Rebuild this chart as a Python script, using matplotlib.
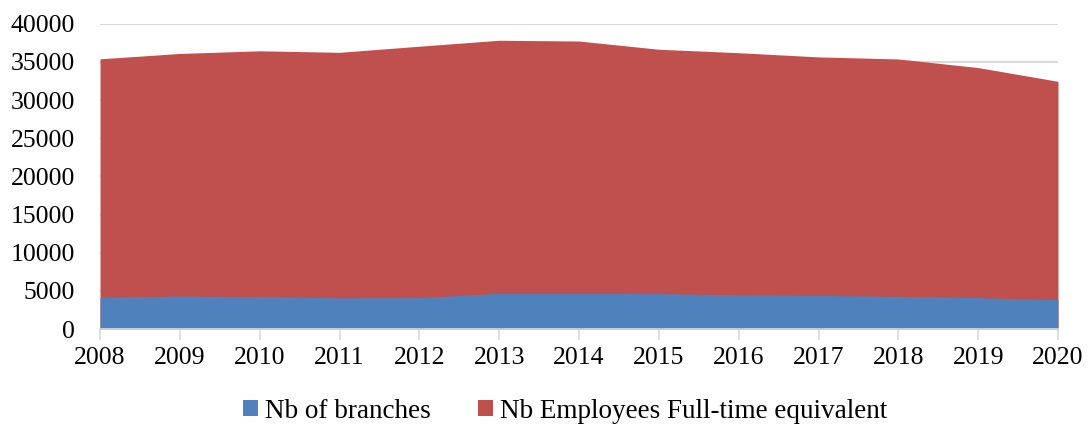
import matplotlib
matplotlib.use("Agg")
import matplotlib.pyplot as plt
from matplotlib.patches import Patch

years = [2008, 2009, 2010, 2011, 2012, 2013, 2014, 2015, 2016, 2017, 2018, 2019, 2020]
employees_fte = [35400, 36100, 36450, 36250, 37050, 37830, 37730, 36650, 36200, 35650, 35380, 34250, 32450]
branches = [4150, 4320, 4240, 4080, 4110, 4680, 4680, 4630, 4480, 4400, 4280, 4100, 3850]
yticks = [0, 5000, 10000, 15000, 20000, 25000, 30000, 35000, 40000]

blue = "#4F81BD"
red = "#C0504D"
grid = "#D9D9D9"

plt.rcParams['font.family'] = ['Liberation Serif', 'DejaVu Serif']

fig = plt.figure(figsize=(10.91, 4.28), dpi=100)
ax = fig.add_axes([100/1091, 1-329/428, (1058-100)/1091, (329-23.7)/428])

ax.fill_between(years, 0, employees_fte, color=red, linewidth=0, zorder=2)
ax.fill_between(years, 0, branches, color=blue, linewidth=0, zorder=3)

ax.set_xlim(years[0], years[-1])
ax.set_ylim(0, 40000)
ax.set_yticks(yticks)
ax.set_yticklabels([str(v) for v in yticks])
ax.set_xticks(years)
ax.set_xticklabels([str(y) for y in years])
ax.yaxis.grid(True, color=grid, linewidth=1.5, zorder=1)
ax.set_axisbelow(True)

for s in ['top', 'right', 'left']:
    ax.spines[s].set_visible(False)
ax.spines['bottom'].set_color(grid)
ax.spines['bottom'].set_linewidth(1.2)
ax.spines['bottom'].set_zorder(4)

ax.tick_params(axis='y', length=0, pad=18, labelsize=18.5, colors='black')
ax.tick_params(axis='x', length=8, width=1.2, color=grid, pad=5, labelsize=18.5)

handles = [Patch(facecolor=blue, label='Nb of branches'),
           Patch(facecolor=red, label='Nb Employees Full-time equivalent')]
fig.legend(handles=handles, loc='center', bbox_to_anchor=(565/1091, 1-411/428),
           ncol=2, frameon=False, fontsize=19.5, handlelength=0.55, handleheight=0.55,
           handletextpad=0.25, columnspacing=1.75)

fig.savefig("out.png", dpi=100)
